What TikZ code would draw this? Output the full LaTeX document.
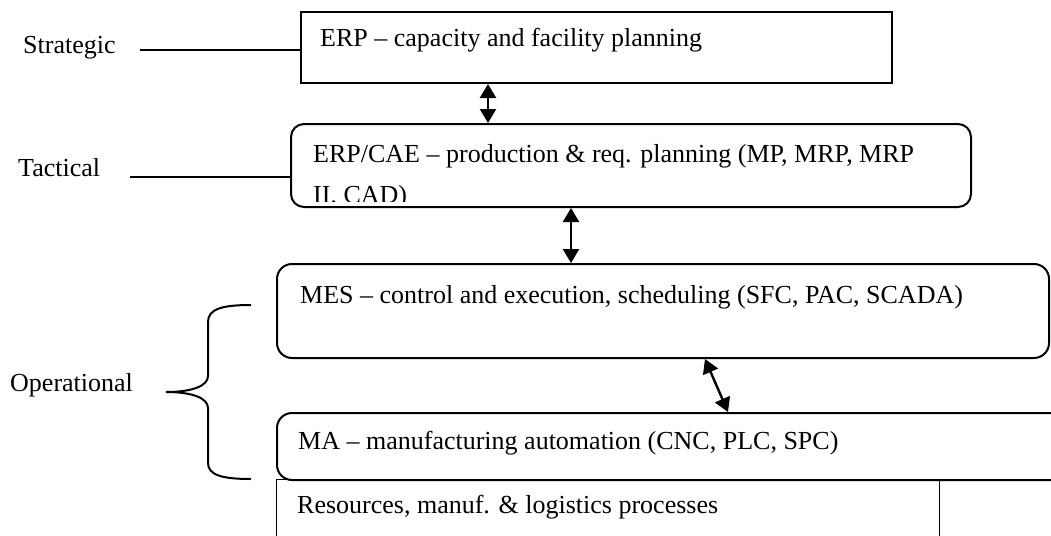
\documentclass[tikz,border=0pt]{standalone}
\usepackage{fontspec}
\setmainfont{Liberation Serif}
\usetikzlibrary{arrows.meta}

\tikzset{
  lvlbox/.style={draw, line width=2pt, anchor=north west, inner sep=0pt},
  lvltext/.style={anchor=base west, inner sep=0pt, font=\fontsize{26}{41}\selectfont},
  link/.style={line width=2.4pt, {Triangle[length=14pt,width=16pt]}-{Triangle[length=14pt,width=16pt]}},
  tick/.style={line width=2pt},
}

\begin{document}
\begin{tikzpicture}[x=1pt,y=-1pt]
	\useasboundingbox (0,0) rectangle (1051,535);
	\clip (0,0) rectangle (1051,535);
	
	%%%%% boxes %%%%%
	\node[lvlbox, minimum width=591pt, minimum height=71pt] (erp) at (300,11) {};
	\node[lvlbox, rounded corners=13pt, minimum width=680pt, minimum height=83pt] (cae) at (290,123) {};
	\node[lvlbox, rounded corners=15pt, minimum width=772pt, minimum height=94pt] (mes) at (276,263) {};
	\node[lvlbox, line width=1.3pt, minimum width=663pt, minimum height=80pt] (res) at (276,479) {};
	\node[lvlbox, rounded corners=15pt, minimum width=800pt, minimum height=67pt] (ma) at (276,412) {};
	
	%%%%% texts %%%%%
	\node[lvltext] (erptxt) at (320,46.5) {ERP – capacity and facility planning};
	\begin{scope}
		\clip (290,123) rectangle (970,201);
		\node[lvltext] (caetxt) at (313,162) {ERP/CAE – production \& req. planning (MP, MRP, MRP};
		\node[lvltext] (caetxtb) at (313,203) {II, CAD)};
	\end{scope}
	\node[lvltext] (mestxt) at (300,303) {MES – control and execution, scheduling (SFC, PAC, SCADA)};
	\node[lvltext] (matxt) at (298,449) {MA – manufacturing automation (CNC, PLC, SPC)};
	\node[lvltext] (restxt) at (297,513) {Resources, manuf. \& logistics processes};
	
	\node[lvltext] (strat) at (23,53) {Strategic};
	\node[lvltext] (tact) at (18,176) {Tactical};
	\node[lvltext] (oper) at (10,391) {Operational};
	
	%%%%% level ticks %%%%%
	\coordinate (s0) at (140,50);
	\coordinate (t0) at (130,177);
	\draw[tick] (s0) -- (s0 -| erp.west);
	\draw[tick] (t0) -- (t0 -| cae.west);
	
	%%%%% brace %%%%%
	\draw[tick] (251,305) .. controls (222,305) and (208,309) .. (208,322) -- (208,376)
		.. controls (208,386) and (192,392) .. (166,392)
		.. controls (192,392) and (208,398) .. (208,408) -- (208,463)
		.. controls (208,475) and (222,479) .. (251,479);
	
	%%%%% links %%%%%
	\coordinate (a1) at (488,0);
	\coordinate (a2) at (571,0);
	\coordinate (a3) at (705,0);
	\coordinate (a4) at (728,0);
	\draw[link] (erp.south -| a1) -- (cae.north -| a1);
	\draw[link] (cae.south -| a2) -- (mes.north -| a2);
	\draw[link] (mes.south -| a3) -- (ma.north -| a4);
\end{tikzpicture}
\end{document}
